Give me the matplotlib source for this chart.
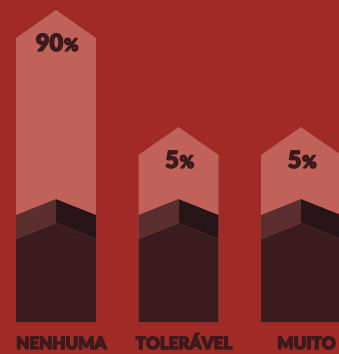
import matplotlib
matplotlib.use("Agg")
import matplotlib.pyplot as plt
from matplotlib.patches import Polygon
from matplotlib.offsetbox import TextArea, HPacker, AnnotationBbox
import matplotlib.patheffects as pe

# ---- data ----
categories = ["NENHUMA", "TOLERÁVEL", "MUITO"]
values = [90, 5, 5]

# ---- style ----
BG = "#a02a26"
LIGHT = "#c1625a"
BODY = "#3a1c1e"
LEFT_FACE = "#5a2d2e"
RIGHT_FACE = "#261416"
TEXT = "#3a1a1c"
FONT = "Lato"
THICK = [pe.withStroke(linewidth=0.9, foreground=TEXT)]

fig = plt.figure(figsize=(3.39, 3.54), dpi=100, facecolor=BG)
ax = fig.add_axes([0, 0, 1, 1])
ax.set_facecolor(BG)
ax.axis("off")

K = 1 / 1.376          # data units per vertical pixel
BASE = -116.4          # bottom of the dark pedestal (data units)
def h(px):
    return BASE + px * K

ax.set_xlim(-0.457, 2.310)
ax.set_ylim(-139.6, 117.6)

W = 0.3265             # half bar width (x units)
ROOF = 28              # roof height in px

for i, (cat, v) in enumerate(zip(categories, values)):
    # light arrow column whose shoulder sits at the value
    ax.add_patch(Polygon([(i - W, BASE), (i - W, v), (i, v + ROOF * K),
                          (i + W, v), (i + W, BASE)],
                         closed=True, facecolor=LIGHT, edgecolor="none"))
    # dark pedestal body
    ax.add_patch(Polygon([(i - W, BASE), (i - W, h(83)), (i, h(99)),
                          (i + W, h(83)), (i + W, BASE)],
                         closed=True, facecolor=BODY, edgecolor="none"))
    # roof faces
    ax.add_patch(Polygon([(i - W, h(83)), (i - W, h(107)), (i, h(123)), (i, h(99))],
                         closed=True, facecolor=LEFT_FACE, edgecolor="none"))
    ax.add_patch(Polygon([(i, h(99)), (i, h(123)), (i + W, h(107)), (i + W, h(83))],
                         closed=True, facecolor=RIGHT_FACE, edgecolor="none"))

    # percentage label: big digits + smaller percent sign
    num = TextArea(f"{v}", textprops=dict(fontsize=17, fontweight="heavy",
                                          color=TEXT, family=FONT,
                                          path_effects=THICK))
    pct = TextArea("%", textprops=dict(fontsize=12.5, fontweight="heavy",
                                       color=TEXT, family=FONT,
                                       path_effects=THICK))
    box = HPacker(children=[num, pct], align="baseline", pad=0, sep=0.5)
    ab = AnnotationBbox(box, (i + 0.01, v - 6 * K), frameon=False,
                        box_alignment=(0.5, 0.5), pad=0)
    ax.add_artist(ab)

    # category label
    ax.text(i + 0.045, h(-22), cat, ha="center", va="center", fontsize=12.2,
            fontweight="heavy", color=TEXT, family=FONT, path_effects=THICK)

fig.savefig("out.png", dpi=100, facecolor=BG)
